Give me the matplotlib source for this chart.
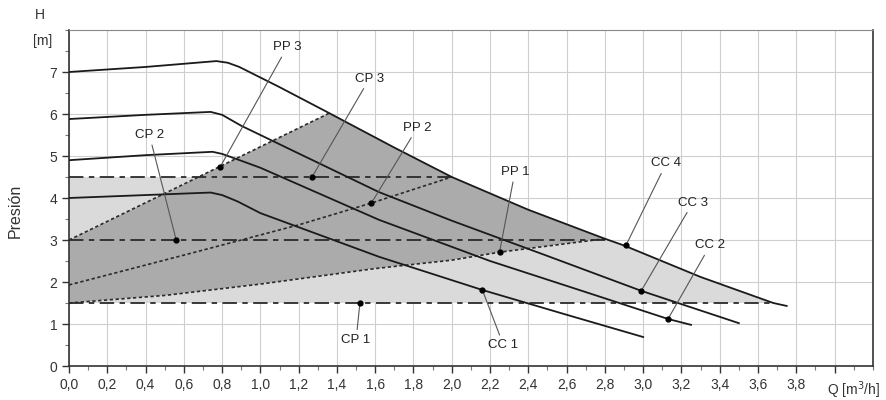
import matplotlib.pyplot as plt
from matplotlib.ticker import MultipleLocator, FixedLocator

plt.rcParams['font.family'] = ['Liberation Sans', 'DejaVu Sans']

# curvas de la bomba (Q, H)
q1 = [0.0, 0.4, 0.77, 0.83, 0.89, 1.1, 1.36, 1.7, 2.0, 2.4, 2.8, 2.9, 3.3, 3.68, 3.75]
h1 = [7.0, 7.12, 7.26, 7.22, 7.12, 6.64, 6.02, 5.2, 4.5, 3.72, 3.03, 2.87, 2.12, 1.5, 1.43]
q2 = [0.0, 0.4, 0.74, 0.8, 0.9, 1.2, 1.62, 2.0, 2.5, 2.99, 3.5]
h2 = [5.88, 5.98, 6.05, 5.98, 5.72, 5.06, 4.14, 3.46, 2.62, 1.79, 1.02]
q3 = [0.0, 0.4, 0.75, 0.8, 0.88, 1.0, 1.62, 2.2, 2.7, 3.13, 3.25]
h3 = [4.9, 5.02, 5.1, 5.05, 4.92, 4.72, 3.48, 2.5, 1.76, 1.12, 0.98]
q4 = [0.0, 0.4, 0.74, 0.8, 0.88, 1.0, 1.62, 2.16, 2.6, 3.0]
h4 = [4.0, 4.07, 4.13, 4.07, 3.92, 3.64, 2.6, 1.81, 1.22, 0.69]

# lineas de presion proporcional
pp1_q = [0.0, 0.5, 1.0, 1.6, 2.0, 2.25, 2.8]
pp1_h = [1.5, 1.68, 1.95, 2.32, 2.52, 2.71, 3.03]
pp2_q = [0.0, 0.6, 1.2, 1.58, 2.0]
pp2_h = [1.93, 2.64, 3.36, 3.88, 4.5]
pp3_q = [0.0, 0.676, 1.36]
pp3_h = [3.0, 4.5, 6.02]

# lineas de presion constante
cp_h = [1.5, 3.0, 4.5]
cp_qmax = [3.68, 2.82, 2.0]

# etiquetas: texto, punto, posicion del texto
labels = ['PP 3', 'CP 3', 'CP 2', 'PP 2', 'PP 1', 'CC 4', 'CC 3', 'CC 2', 'CC 1', 'CP 1']
pts_q = [0.79, 1.27, 0.56, 1.58, 2.25, 2.91, 2.99, 3.13, 2.16, 1.52]
pts_h = [4.74, 4.5, 3.0, 3.88, 2.72, 2.87, 1.79, 1.12, 1.81, 1.5]
txt_q = [1.14, 1.57, 0.42, 1.82, 2.33, 3.12, 3.26, 3.35, 2.27, 1.50]
txt_h = [7.45, 6.7, 5.36, 5.53, 4.48, 4.68, 3.75, 2.73, 0.64, 0.77]

fig = plt.figure(figsize=(8.87, 4.0), dpi=100)
ax = fig.add_axes([0.0778, 0.085, 0.9062, 0.84])

# zonas sombreadas
dark_q = [0.0, 0.0] + pp3_q[1:] + [q for q in q1 if 1.36 < q < 2.8] + pp1_q[::-1]
dark_h = [1.5, 3.0] + pp3_h[1:] + [h for q, h in zip(q1, h1) if 1.36 < q < 2.8] + pp1_h[::-1]
ax.fill(dark_q, dark_h, color='#ababab', lw=0, zorder=1)

light_q = pp1_q + [q for q in q1 if 2.8 < q <= 3.68]
light_h = pp1_h + [h for q, h in zip(q1, h1) if 2.8 < q <= 3.68]
ax.fill(light_q, light_h, color='#dadada', lw=0, zorder=1)
ax.fill([0.0, 0.0, pp3_q[1]], [3.0, 4.5, 4.5], color='#dadada', lw=0, zorder=1)

for h, qm in zip(cp_h, cp_qmax):
    ax.plot([0, qm], [h, h], color='#2a2a2a', lw=1.3, dashes=[8, 3, 3, 3], zorder=3)

for q, h in [(pp1_q, pp1_h), (pp2_q, pp2_h), (pp3_q, pp3_h)]:
    ax.plot(q, h, color='#2a2a2a', lw=1.2, dashes=[2, 1.5], zorder=3)

for q, h in [(q1, h1), (q2, h2), (q3, h3), (q4, h4)]:
    ax.plot(q, h, color='#1a1a1a', lw=1.3, zorder=4)

for t, pq, ph, tq, th in zip(labels, pts_q, pts_h, txt_q, txt_h):
    va = 'top' if th < ph else 'bottom'
    ax.annotate(t, xy=(pq, ph), xytext=(tq, th), fontsize=9.5, color='#222222',
                ha='center', va=va, zorder=6,
                arrowprops=dict(arrowstyle='-', color='#555555', lw=0.8,
                                shrinkA=1, shrinkB=0))
    ax.plot(pq, ph, 'o', color='black', ms=3.5, zorder=7)

ax.set_xlim(0, 4.2)
ax.set_ylim(0, 8)
ax.xaxis.set_major_locator(FixedLocator([i * 0.2 for i in range(21)]))
ax.set_xticklabels([('%.1f' % (i * 0.2)).replace('.', ',') if i < 20 else '' for i in range(21)])
ax.xaxis.set_minor_locator(MultipleLocator(0.1))
ax.yaxis.set_major_locator(FixedLocator(range(8)))
ax.yaxis.set_minor_locator(MultipleLocator(0.5))
ax.tick_params(which='major', direction='out', length=5, width=1, colors='#333333', labelsize=10)
ax.tick_params(which='minor', direction='out', length=3, width=0.8, colors='#777777')

ax.grid(True, which='major', color='#cfcfcf', lw=0.8, zorder=0)
ax.set_axisbelow(True)
for s in ['left', 'bottom', 'right']:
    ax.spines[s].set_color('#333333')
    ax.spines[s].set_linewidth(1.2)
ax.spines['top'].set_color('#888888')
ax.spines['top'].set_linewidth(0.8)

ax.text(-0.15, 8.35, 'H', ha='center', va='center', fontsize=10, color='#333333', clip_on=False)
ax.text(-0.14, 7.75, '[m]', ha='center', va='center', fontsize=10, color='#333333', clip_on=False)
ax.text(4.1, -0.58, 'Q [m$^3$/h]', ha='center', va='center', fontsize=10, color='#333333', clip_on=False)
ax.text(-0.28, 3.7, 'Presión', rotation=90, ha='center', va='center', fontsize=11.5,
        color='#333333', clip_on=False)

fig.savefig('out.png', dpi=100)
